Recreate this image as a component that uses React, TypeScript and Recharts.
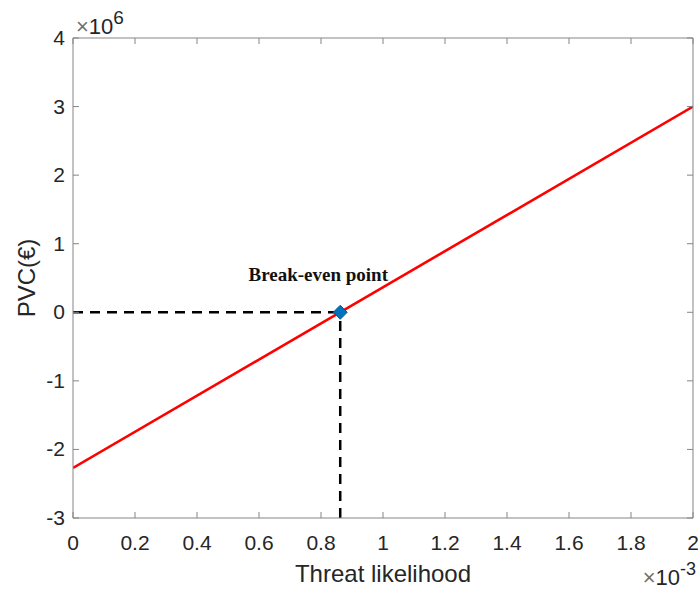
import { ComposedChart, Line, Scatter, XAxis, YAxis, LabelList } from "recharts";

// x in units of 1e-3, y in units of 1e6
const xTicks = [0, 0.2, 0.4, 0.6, 0.8, 1, 1.2, 1.4, 1.6, 1.8, 2];
const yTicks = [-3, -2, -1, 0, 1, 2, 3, 4];
const pvcX = [0, 2];
const pvcY = [-2.27, 3.0];
const breakEvenX = 0.862;
const breakEvenY = 0;

const pvcData = pvcX.map((x, i) => ({ x, y: pvcY[i] }));
const hDash = [
  { x: 0, y: breakEvenY },
  { x: breakEvenX, y: breakEvenY },
];
const vDash = [
  { x: breakEvenX, y: -3 },
  { x: breakEvenX, y: breakEvenY },
];
const breakEven = [{ x: breakEvenX, y: breakEvenY, label: "Break-even point" }];

const axisColor = "#858585";
const textColor = "#262626";
const sans = "'Liberation Sans', Arial, Helvetica, sans-serif";

function BottomTick(props: any) {
  const { x, y, payload } = props;
  return (
    <g>
      <line x1={x} x2={x} y1={y} y2={y - 6} stroke={axisColor} />
      <text x={x} y={y + 32} textAnchor="middle" fontSize={21} fill={textColor} fontFamily={sans}>
        {payload.value}
      </text>
    </g>
  );
}

function TopTick(props: any) {
  const { x, y } = props;
  return <line x1={x} x2={x} y1={y} y2={y + 6} stroke={axisColor} />;
}

function LeftTick(props: any) {
  const { x, y, payload } = props;
  return (
    <g>
      <line x1={x} x2={x + 6} y1={y} y2={y} stroke={axisColor} />
      <text x={x - 8} y={y + 7} textAnchor="end" fontSize={21} fill={textColor} fontFamily={sans}>
        {payload.value}
      </text>
    </g>
  );
}

function RightTick(props: any) {
  const { x, y } = props;
  return <line x1={x} x2={x - 6} y1={y} y2={y} stroke={axisColor} />;
}

function YLabel(props: any) {
  const { viewBox } = props;
  const cy = viewBox.y + viewBox.height / 2;
  const right = viewBox.x + viewBox.width;
  return (
    <g>
      <text
        x={35}
        y={cy}
        transform={`rotate(-90 35 ${cy})`}
        textAnchor="middle"
        fontSize={24}
        fill={textColor}
        fontFamily={sans}
      >
        PVC(€)
      </text>
      <text x={right + 3} y={viewBox.y - 4} fontSize={22} fill={textColor} fontFamily={sans}>
        <tspan fill="#707070">×</tspan>10
        <tspan fontSize={19} dy={-10}>6</tspan>
      </text>
    </g>
  );
}

function XLabel(props: any) {
  const { viewBox } = props;
  const cx = viewBox.x + viewBox.width / 2;
  const right = viewBox.x + viewBox.width;
  return (
    <g>
      <text x={cx} y={viewBox.y + 64} textAnchor="middle" fontSize={24} fill={textColor} fontFamily={sans}>
        Threat likelihood
      </text>
      <text x={right + 3} y={viewBox.y + 67} textAnchor="end" fontSize={22} fill={textColor} fontFamily={sans}>
        <tspan fill="#707070">×</tspan>10
        <tspan fontSize={18} dy={-10}>-3</tspan>
      </text>
    </g>
  );
}

function Diamond(props: any) {
  const { cx, cy } = props;
  const r = 7;
  return (
    <polygon
      points={`${cx},${cy - r} ${cx + r},${cy} ${cx},${cy + r} ${cx - r},${cy}`}
      fill="#0072BD"
      stroke="#005a96"
      strokeWidth={1}
    />
  );
}

function BreakEvenLabel(props: any) {
  const { x, y, width, height, value } = props;
  const cx = x + (width || 0) / 2;
  const cy = y + (height || 0) / 2;
  return (
    <text
      x={cx - 22}
      y={cy - 31}
      textAnchor="middle"
      fontSize={19}
      fontWeight="bold"
      fill="#111"
      fontFamily="'Liberation Serif', 'Times New Roman', serif"
    >
      {value}
    </text>
  );
}

export default function App() {
  return (
    <div style={{ position: "absolute", left: 0, top: 0, width: 698, height: 590, background: "#fff" }}>
      <ComposedChart width={698} height={590} margin={{ top: 37, right: 4, bottom: 0, left: 0 }}>
        <XAxis
          xAxisId="b"
          dataKey="x"
          type="number"
          domain={[0, 2]}
          ticks={xTicks}
          allowDataOverflow
          height={72}
          tickSize={0}
          tickMargin={0}
          tick={<BottomTick />}
          tickLine={false}
          axisLine={{ stroke: axisColor }}
          label={<XLabel />}
          interval={0}
        />
        <XAxis
          xAxisId="t"
          orientation="top"
          dataKey="x"
          type="number"
          domain={[0, 2]}
          ticks={xTicks}
          allowDataOverflow
          height={1}
          tickSize={0}
          tickMargin={0}
          tick={<TopTick />}
          tickLine={false}
          axisLine={{ stroke: axisColor }}
          interval={0}
        />
        <YAxis
          yAxisId="l"
          type="number"
          domain={[-3, 4]}
          ticks={yTicks}
          allowDataOverflow
          width={73}
          tickSize={0}
          tickMargin={0}
          tick={<LeftTick />}
          tickLine={false}
          axisLine={{ stroke: axisColor }}
          label={<YLabel />}
          interval={0}
        />
        <YAxis
          yAxisId="r"
          orientation="right"
          type="number"
          domain={[-3, 4]}
          ticks={yTicks}
          allowDataOverflow
          width={1}
          tickSize={0}
          tickMargin={0}
          tick={<RightTick />}
          tickLine={false}
          axisLine={{ stroke: axisColor }}
          interval={0}
        />
        <Line
          xAxisId="t"
          yAxisId="l"
          data={hDash}
          dataKey="y"
          type="linear"
          stroke="#000"
          strokeWidth={2.5}
          strokeDasharray="10 7"
          dot={false}
          isAnimationActive={false}
        />
        <Line
          xAxisId="b"
          yAxisId="r"
          data={vDash}
          dataKey="y"
          type="linear"
          stroke="#000"
          strokeWidth={2.5}
          strokeDasharray="10 7"
          dot={false}
          isAnimationActive={false}
        />
        <Line
          xAxisId="b"
          yAxisId="l"
          data={pvcData}
          dataKey="y"
          type="linear"
          stroke="#ff0000"
          strokeWidth={2.6}
          dot={false}
          isAnimationActive={false}
        />
        <Scatter
          xAxisId="b"
          yAxisId="l"
          data={breakEven}
          dataKey="y"
          shape={<Diamond />}
          isAnimationActive={false}
        >
          <LabelList dataKey="label" content={<BreakEvenLabel />} />
        </Scatter>
      </ComposedChart>
    </div>
  );
}
